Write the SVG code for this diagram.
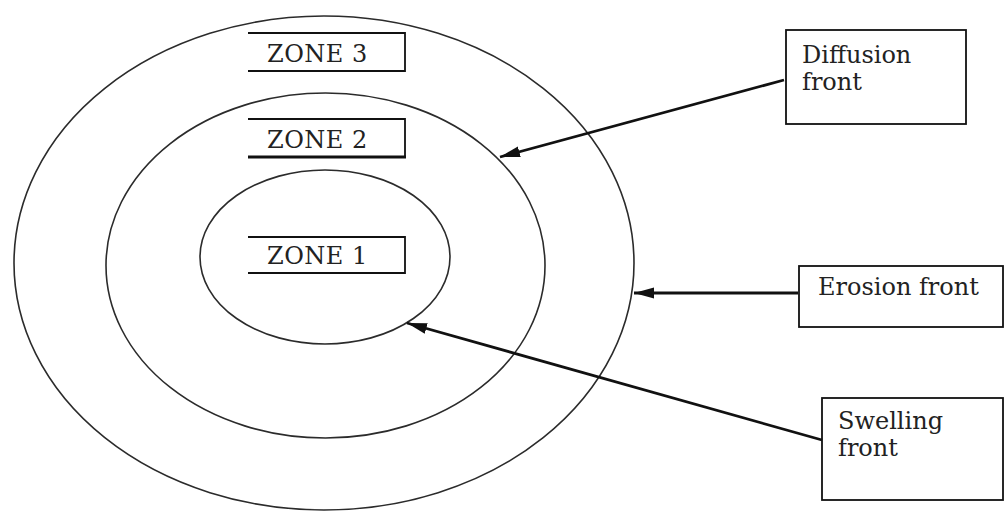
<svg xmlns="http://www.w3.org/2000/svg" width="1007" height="513" viewBox="0 0 1007 513">
  <style>
    .ring { fill: none; stroke: #2b2b2b; stroke-width: 1.6; }
    .tag { fill: none; stroke: #111; stroke-width: 1.8; }
    .box { fill: #fff; stroke: #111; stroke-width: 1.8; }
    .lbl { font-family: "DejaVu Serif", "Liberation Serif", serif; font-size: 24px; fill: #222; }
    .zone { letter-spacing: 0.5px; }
    .arrow { fill: none; stroke: #111; stroke-width: 2.8; marker-end: url(#head); }
  </style>
  <defs>
    <marker id="head" markerUnits="userSpaceOnUse" markerWidth="22" markerHeight="14" refX="20" refY="7" orient="auto">
      <path d="M0,1.5 L20,7 L0,12.5 Z" fill="#111"/>
    </marker>
  </defs>

  <rect width="1007" height="513" fill="#fff"/>

  <!-- concentric zones -->
  <g id="rings">
    <ellipse id="outer-ring" class="ring" cx="324" cy="263" rx="310" ry="247"/>
    <ellipse id="middle-ring" class="ring" cx="325.5" cy="265.5" rx="219.5" ry="172.5"/>
    <ellipse id="inner-ring" class="ring" cx="325" cy="257" rx="125" ry="87"/>
  </g>

  <!-- zone labels (boxes open on the left side) -->
  <g id="zone3">
    <polyline class="tag" points="248,33 405,33 405,71 248,71"/>
    <text class="lbl zone" x="267" y="62">ZONE 3</text>
  </g>
  <g id="zone2">
    <polyline class="tag" points="248,119 405,119 405,157"/>
    <line x1="248" y1="157" x2="406" y2="157" stroke="#111" stroke-width="2.8"/>
    <text class="lbl zone" x="267" y="148">ZONE 2</text>
  </g>
  <g id="zone1">
    <polyline class="tag" points="248,237 405,237 405,273 248,273"/>
    <text class="lbl zone" x="267" y="264">ZONE 1</text>
  </g>

  <!-- front labels -->
  <g id="diffusion-front">
    <rect class="box" x="786" y="30" width="180" height="94"/>
    <text class="lbl" x="802" y="63">Diffusion</text>
    <text class="lbl" x="802" y="90">front</text>
  </g>
  <g id="erosion-front">
    <rect class="box" x="799" y="266" width="204" height="61"/>
    <text class="lbl" x="818" y="295">Erosion front</text>
  </g>
  <g id="swelling-front">
    <rect class="box" x="822" y="398" width="181" height="102"/>
    <text class="lbl" x="838" y="429">Swelling</text>
    <text class="lbl" x="838" y="456" font-size="21">front</text>
  </g>

  <!-- connectors -->
  <g id="connectors">
    <line class="arrow" x1="784" y1="80" x2="500" y2="157"/>
    <line class="arrow" x1="798" y1="293" x2="634" y2="293"/>
    <line class="arrow" x1="822" y1="440" x2="407" y2="323"/>
  </g>
</svg>
